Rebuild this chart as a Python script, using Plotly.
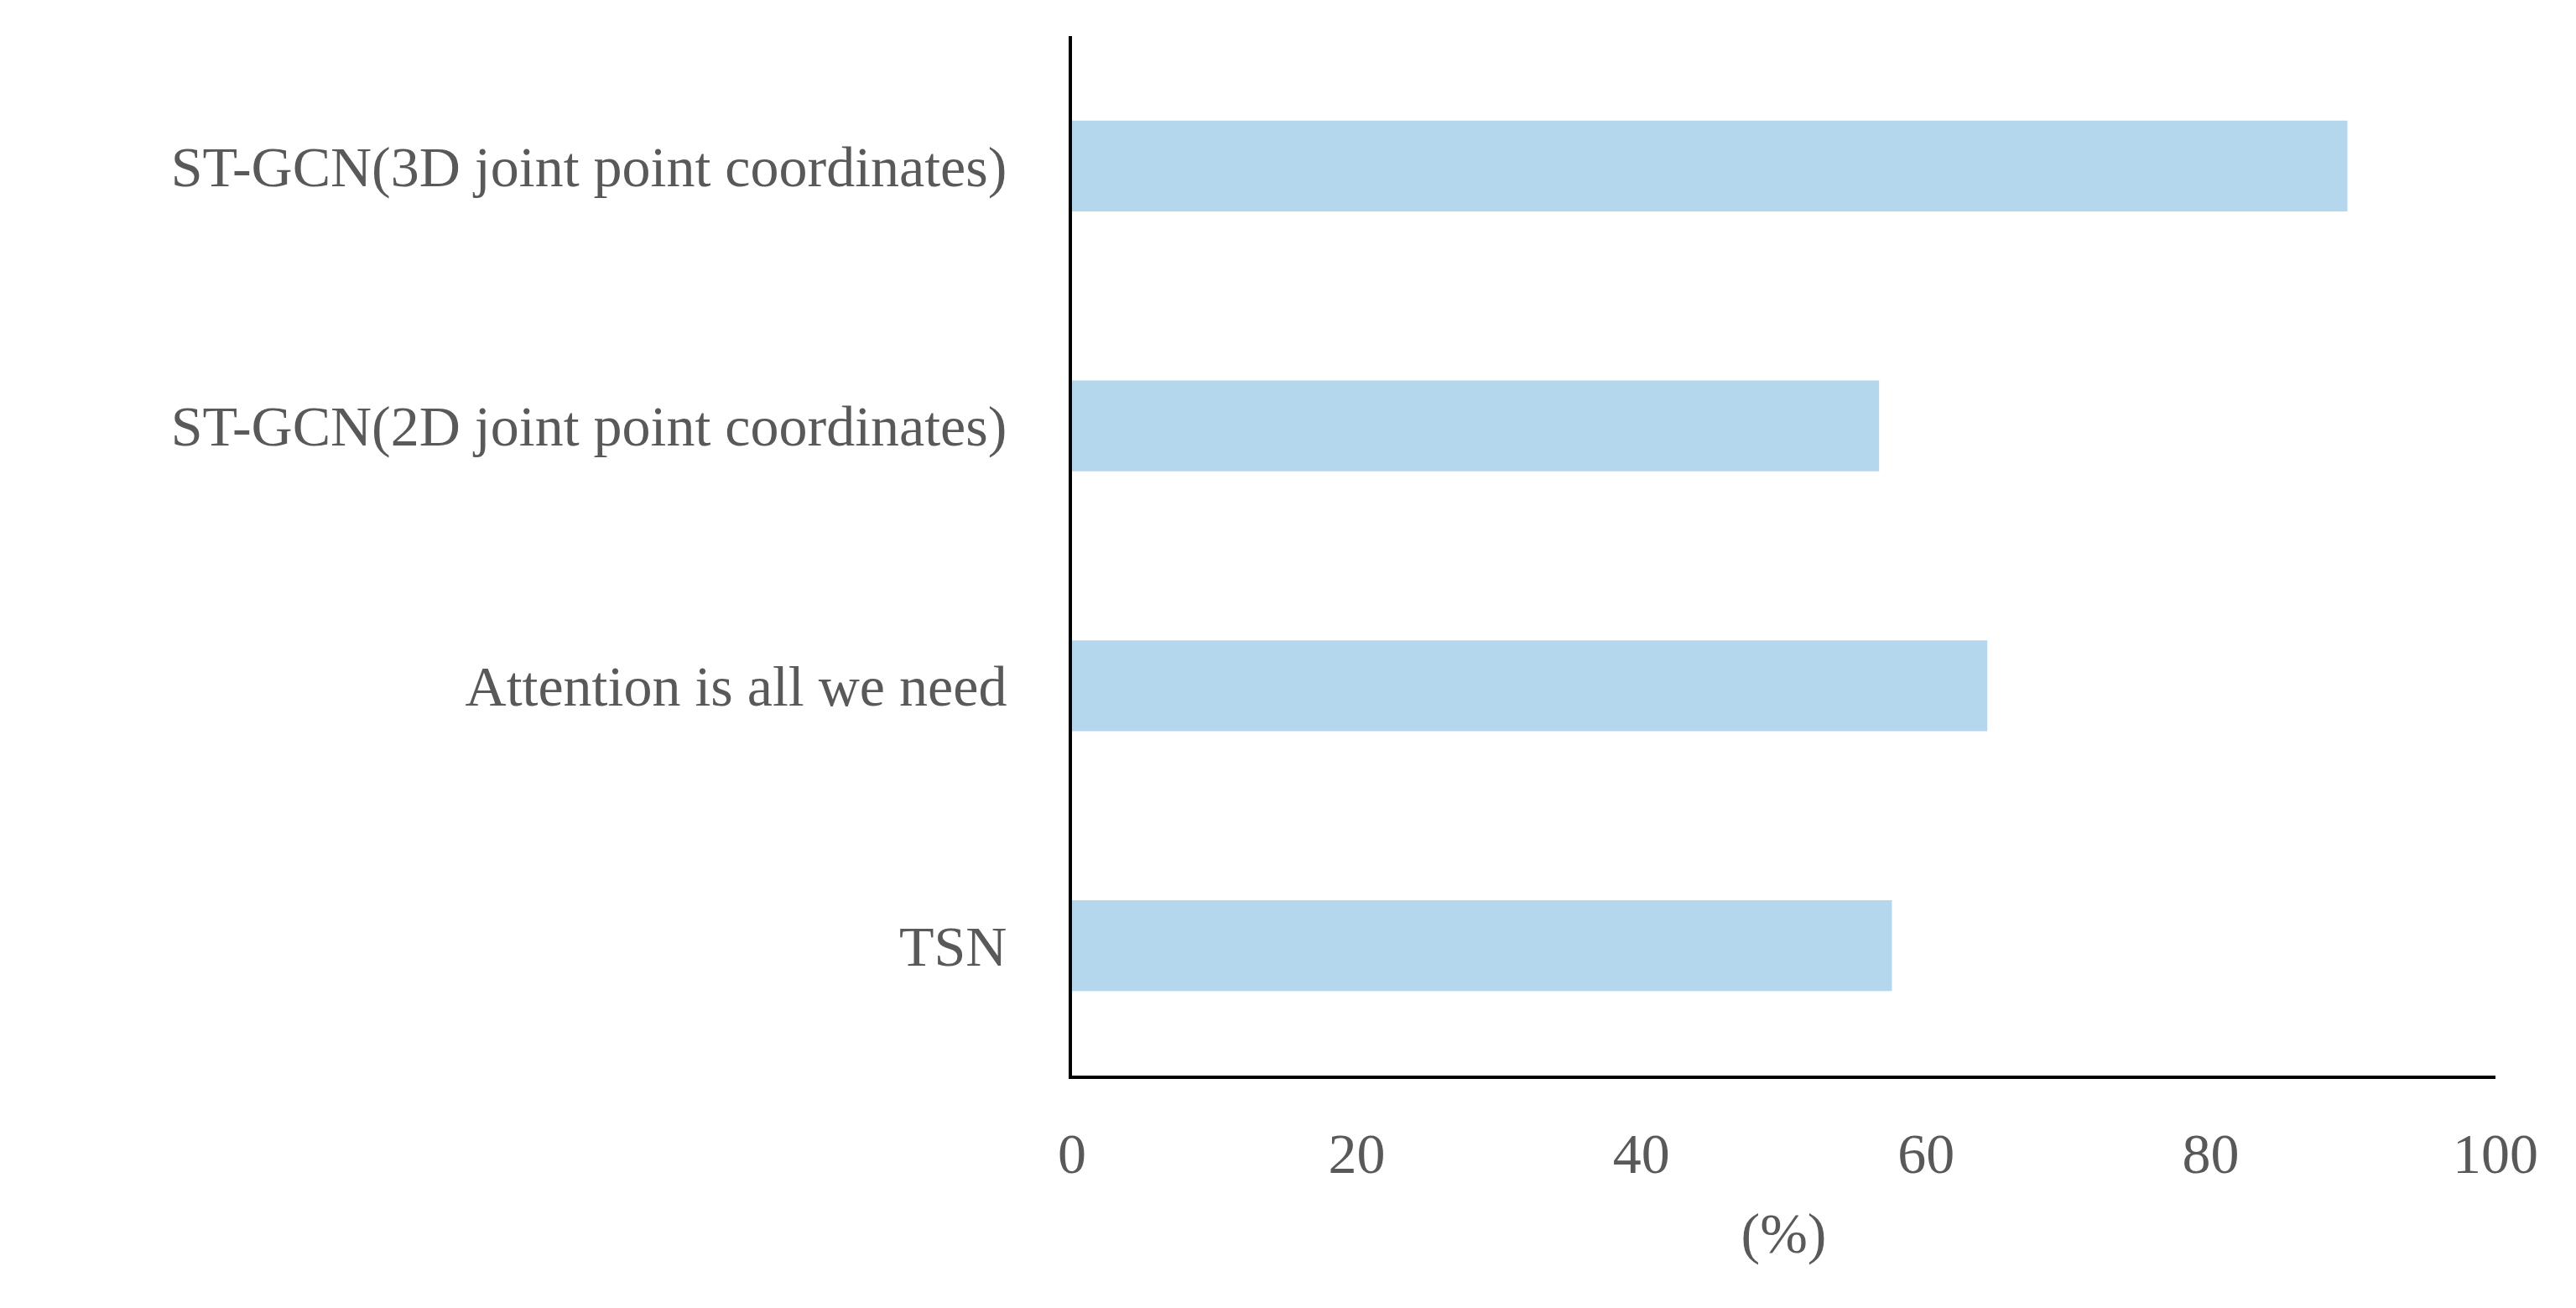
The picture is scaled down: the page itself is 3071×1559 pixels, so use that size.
import plotly.graph_objects as go

methods = ["TSN", "Attention is all we need",
           "ST-GCN(2D joint point coordinates)",
           "ST-GCN(3D joint point coordinates)"]
accuracy = [57.6, 64.3, 56.7, 89.6]
x_ticks = [0, 20, 40, 60, 80, 100]

fig = go.Figure()
fig.add_trace(go.Bar(x=accuracy, y=methods, orientation="h", width=0.35,
                     marker=dict(color="#B4D7EE", line=dict(width=0))))

font = dict(family="Liberation Serif, Times New Roman, serif", size=68, color="#595959")
fig.update_layout(
    width=3071, height=1559, plot_bgcolor="white", paper_bgcolor="white",
    margin=dict(l=1270, r=104, t=35, b=285),
    font=font, showlegend=False,
)
fig.update_xaxes(range=[0, 100], tickvals=x_ticks, showgrid=False, zeroline=False,
                 showline=True, linecolor="black", linewidth=4, ticks="",
                 ticklabelstandoff=30,
                 title=dict(text="(%)", font=font, standoff=35))
fig.update_yaxes(showgrid=False, showline=True, linecolor="black", linewidth=4,
                 ticks="", ticklabelstandoff=60, range=[-0.5, 3.5])
fig.write_html("out.html")
